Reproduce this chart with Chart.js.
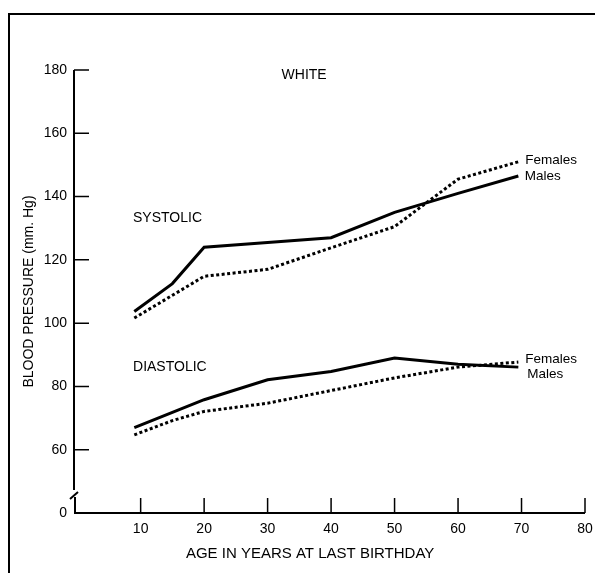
<!DOCTYPE html>
<html>
<head>
<meta charset="utf-8">
<script src="https://cdn.jsdelivr.net/npm/chart.js@4.4.0/dist/chart.umd.min.js"></script>
<style>
  html, body { margin: 0; padding: 0; background: #fff; }
  #wrap { width: 595px; height: 573px; position: relative; }
</style>
</head>
<body>
<div id="wrap"><canvas id="bpChart"></canvas></div>
<script>
// ages (years at last birthday) where the curves were read
const ages = [9, 15, 20, 30, 40, 50, 60, 69.5];
const systolicMales    = [103.7, 112.5, 124, 125.5, 127, 135, 141, 146.5];
const systolicFemales  = [101.6, 108.8, 114.8, 117, 123.8, 130.5, 145.5, 151];
const diastolicMales   = [67, 71.8, 75.8, 82.1, 84.7, 89, 87, 86.1];
const diastolicFemales = [64.7, 69.2, 72.1, 74.7, 78.7, 82.7, 86.1, 87.7];

const xTicks = [10, 20, 30, 40, 50, 60, 70, 80];
const yTicks = [40, 60, 80, 100, 120, 140, 160, 180];
// 40 stands in for the zero below the axis break
const yTickLabels = ['0', '60', '80', '100', '120', '140', '160', '180'];

// text notes placed in data units
const noteText = ['WHITE', 'SYSTOLIC', 'DIASTOLIC', 'Females', 'Males', 'Females', 'Males'];
const noteAge  = [32.2, 8.8, 8.8, 70.6, 70.5, 70.6, 70.9];
const noteBP   = [178.4, 133.3, 86.2, 151.6, 146.5, 88.7, 83.7];
const noteSize = [14, 14, 14, 13.5, 13.5, 13.5, 13.5];

const FONT = '"Liberation Sans", Arial, Helvetica, sans-serif';

function pts(values) {
    return ages.map((a, i) => ({ x: a, y: values[i] }));
}

function solid(values) {
    return { data: pts(values), borderColor: '#000', borderWidth: 3, pointRadius: 0, fill: false, tension: 0 };
}

function dotted(values) {
    return { data: pts(values), borderColor: '#000', borderWidth: 3, borderDash: [3, 2.5], pointRadius: 0, fill: false, tension: 0 };
}

// frame, axes with inward ticks, axis break and the text notes
const drawExtras = {
    id: 'drawExtras',
    beforeDraw(chart) {
        const ctx = chart.ctx;
        ctx.save();
        ctx.strokeStyle = '#000';
        ctx.lineWidth = 2;
        ctx.beginPath();
        ctx.moveTo(9, 573);
        ctx.lineTo(9, 14);
        ctx.lineTo(595, 14);
        ctx.stroke();
        ctx.restore();
    },
    afterDraw(chart) {
        const ctx = chart.ctx;
        const xs = chart.scales.x;
        const ys = chart.scales.y;
        const left = chart.chartArea.left;
        const bottom = chart.chartArea.bottom;
        const top = ys.getPixelForValue(180);
        const right = xs.getPixelForValue(80);
        const breakY = ys.getPixelForValue(46);

        ctx.save();
        ctx.strokeStyle = '#000';
        ctx.lineWidth = 2;
        ctx.beginPath();
        // y axis, broken near the bottom
        ctx.moveTo(left, top);
        ctx.lineTo(left, breakY - 4);
        ctx.moveTo(left - 4, breakY + 5);
        ctx.lineTo(left + 4, breakY - 2);
        ctx.moveTo(left + 1, breakY + 3);
        ctx.lineTo(left + 1, bottom);
        // x axis
        ctx.moveTo(left, bottom);
        ctx.lineTo(right, bottom);
        ctx.stroke();

        ctx.lineWidth = 1.5;
        ctx.beginPath();
        yTicks.slice(1).forEach(v => {
            const y = ys.getPixelForValue(v);
            ctx.moveTo(left, y);
            ctx.lineTo(left + 15, y);
        });
        xTicks.forEach(v => {
            const x = xs.getPixelForValue(v);
            ctx.moveTo(x, bottom);
            ctx.lineTo(x, bottom - 15);
        });
        ctx.stroke();

        ctx.fillStyle = '#000';
        ctx.textBaseline = 'middle';
        ctx.textAlign = 'left';
        noteText.forEach((t, i) => {
            ctx.font = noteSize[i] + 'px ' + FONT;
            ctx.fillText(t, xs.getPixelForValue(noteAge[i]), ys.getPixelForValue(noteBP[i]));
        });

        ctx.font = '15px ' + FONT;
        ctx.textAlign = 'center';
        ctx.fillText('AGE IN YEARS AT LAST BIRTHDAY', xs.getPixelForValue(36.7), bottom + 41);
        ctx.restore();
    }
};

document.addEventListener('DOMContentLoaded', () => {
    const ctx = document.getElementById('bpChart').getContext('2d');
    new Chart(ctx, {
        type: 'line',
        data: {
            datasets: [
                solid(systolicMales),
                dotted(systolicFemales),
                solid(diastolicMales),
                dotted(diastolicFemales)
            ]
        },
        options: {
            responsive: true,
            maintainAspectRatio: false,
            animation: false,
            layout: { padding: { top: 70, right: 10, bottom: 0, left: 0 } },
            plugins: { legend: { display: false }, tooltip: { enabled: false } },
            scales: {
                x: {
                    type: 'linear',
                    min: -0.5,
                    max: 80,
                    grid: { display: false, drawTicks: false },
                    border: { display: false },
                    afterBuildTicks: s => { s.ticks = xTicks.map(v => ({ value: v })); },
                    afterFit: s => { s.height = 60; s.paddingLeft = 0; s.paddingRight = 0; },
                    ticks: { color: '#000', font: { family: FONT, size: 14 }, padding: 8, maxRotation: 0, autoSkip: false }
                },
                y: {
                    min: 40,
                    max: 180,
                    grid: { display: false, drawTicks: false },
                    border: { display: false },
                    afterBuildTicks: s => { s.ticks = yTicks.map(v => ({ value: v })); },
                    afterFit: s => { s.width = 74; s.paddingTop = 0; s.paddingBottom = 0; },
                    ticks: {
                        color: '#000',
                        font: { family: FONT, size: 14 },
                        padding: 7,
                        autoSkip: false,
                        callback: v => yTickLabels[yTicks.indexOf(v)]
                    },
                    title: {
                        display: true,
                        text: 'BLOOD PRESSURE (mm. Hg)',
                        color: '#000',
                        font: { family: FONT, size: 14 },
                        padding: { top: 21, bottom: 0 }
                    }
                }
            }
        },
        plugins: [drawExtras]
    });
});
</script>
</body>
</html>
